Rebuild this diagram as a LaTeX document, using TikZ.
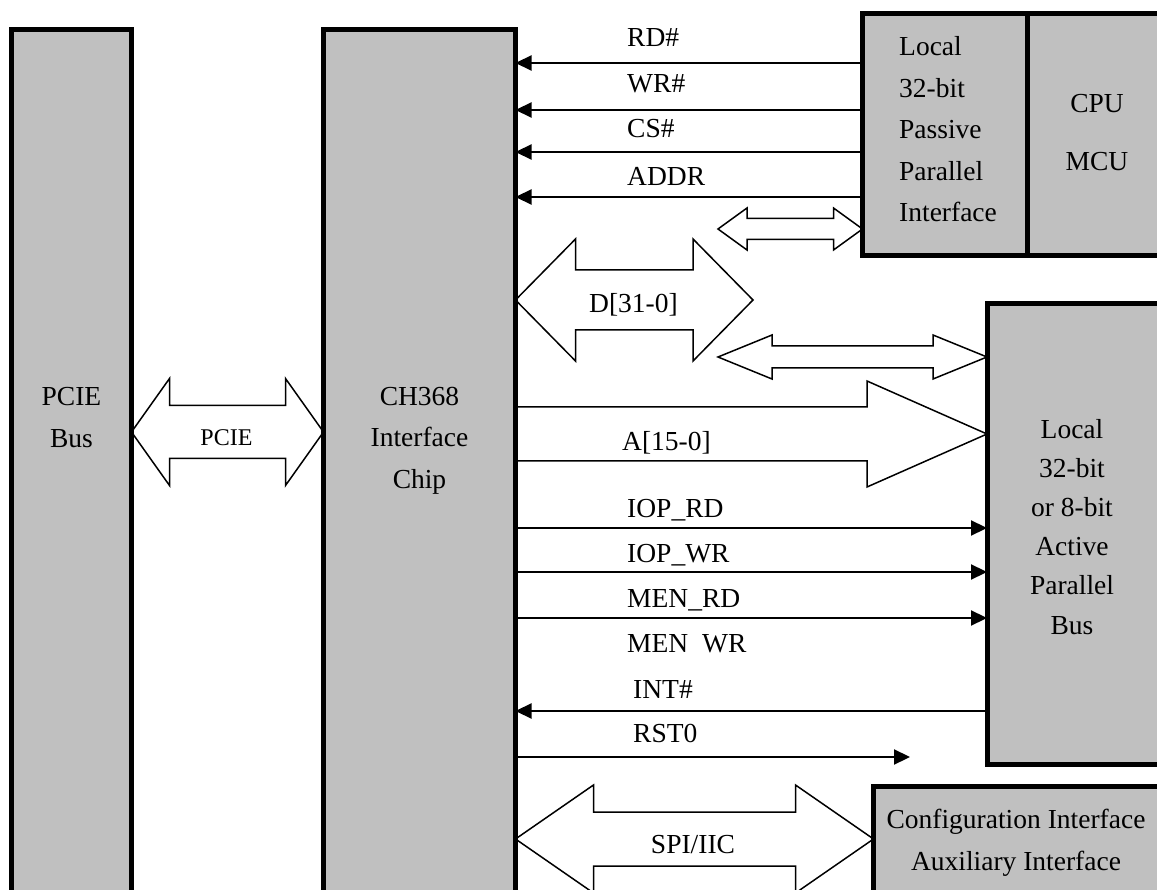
\documentclass[tikz,border=0pt]{standalone}
\usepackage{fontspec}
\setmainfont{Liberation Serif}
\usetikzlibrary{arrows.meta,calc}
\definecolor{boxgray}{RGB}{192,192,192}

% wide bus arrow with two heads: from, to, shaft half width, head half width, head length
\newcommand{\dblbus}[5]{%
  \draw[bus] (#1) -- ($(#1)+(#5,-#4)$) -- ($(#1)+(#5,-#3)$)
    -- ($(#2)+(-#5,-#3)$) -- ($(#2)+(-#5,-#4)$) -- (#2)
    -- ($(#2)+(-#5,#4)$) -- ($(#2)+(-#5,#3)$)
    -- ($(#1)+(#5,#3)$) -- ($(#1)+(#5,#4)$) -- cycle;}
% wide bus arrow with one head
\newcommand{\onebus}[5]{%
  \draw[bus] ($(#1)+(0,-#3)$) -- ($(#2)+(-#5,-#3)$) -- ($(#2)+(-#5,-#4)$) -- (#2)
    -- ($(#2)+(-#5,#4)$) -- ($(#2)+(-#5,#3)$) -- ($(#1)+(0,#3)$);}

\begin{document}
\begin{tikzpicture}[
  x=1pt, y=-1pt,
  font=\fontsize{27.5}{41.5}\selectfont,
  box/.style={draw, line width=5pt, fill=boxgray, outer sep=0pt, anchor=north west},
  sig/.style={line width=2.2pt, -{Triangle[length=16pt,width=15pt]}},
  bus/.style={draw, line width=1.5pt, line join=miter},
  tag/.style={anchor=base west},
  every node/.style={align=center, inner sep=0pt}]

\useasboundingbox (0,0) rectangle (1157,890);
\clip (0,0) rectangle (1157,890);

% The blocks (the texts sit on the baseline of their last line)
\node[box, minimum width=120pt, minimum height=880pt] (pcieBus) at (11.5,29.5) {};
\node[box, minimum width=192pt, minimum height=880pt] (chip) at (323.5,29.5) {};
\node[box, minimum width=164.5pt, minimum height=242pt] (passive) at (862.5,13.5) {};
\node[box, minimum width=160pt, minimum height=242pt] (cpu) at (passive.north east) {};
\node[box, minimum width=200pt, minimum height=460.5pt] (active) at (987,304) {};
\node[box, minimum width=320pt, minimum height=150pt] (config) at (873.5,786.5) {};

\node[anchor=base] (pcieBusText) at (71.5,447) {PCIE\\Bus};
\node[anchor=base] (chipText) at (419.5,488) {CH368\\Interface\\Chip};
\node[anchor=base west, align=left] (passiveText) at (899,222) {Local\\32-bit\\Passive\\Parallel\\Interface};
\node[anchor=base] (cpuText) at (1097,171) {CPU\\[16.5pt]MCU};
\node[anchor=base, font=\fontsize{27.5}{39.2}\selectfont] (activeText) at (1072,634)
  {Local\\32-bit\\or 8-bit\\Active\\Parallel\\Bus};
\node[anchor=base] (configText) at (1016,870) {Configuration Interface\\Auxiliary Interface};

% Signals from the passive interface
\draw[sig] (passive.west |- 0,63) -- (chip.east |- 0,63);
\draw[sig] (passive.west |- 0,110) -- (chip.east |- 0,110);
\draw[sig] (passive.west |- 0,152) -- (chip.east |- 0,152);
\draw[sig] (passive.west |- 0,197) -- (chip.east |- 0,197);
\node[tag] (rdTag) at (627,47) {RD\#};
\node[tag] (wrTag) at (627,93) {WR\#};
\node[tag] (csTag) at (627,138) {CS\#};
\node[tag] (addrTag) at (627,186) {ADDR};

% Signals to the active bus
\draw[sig] (chip.east |- 0,528) -- (active.west |- 0,528);
\draw[sig] (chip.east |- 0,572) -- (active.west |- 0,572);
\draw[sig] (chip.east |- 0,618) -- (active.west |- 0,618);
\draw[sig] (active.west |- 0,711) -- (chip.east |- 0,711);
\coordinate (rstEnd) at (910,757);
\draw[sig] (chip.east |- rstEnd) -- (rstEnd);
\node[tag] (ioprdTag) at (627,517) {IOP\_RD};
\node[tag] (iopwrTag) at (627,562) {IOP\_WR};
\node[tag] (menrdTag) at (627,607) {MEN\_RD};
\node[tag] (menwrTag) at (627,652) {MEN\hspace{0.5em}WR};
\node[tag] (intTag) at (633,698) {INT\#};
\node[tag] (rstTag) at (633,742) {RST0};

% Wide buses
\coordinate (pcieL) at (pcieBus.east |- 0,432);
\coordinate (pcieR) at (chip.west |- 0,432);
\dblbus{pcieL}{pcieR}{26.5}{53.5}{38}
\node[anchor=base, font=\fontsize{24}{28}\selectfont] (pcieTag) at (226.5,446) {PCIE};

\coordinate (dataL) at (chip.east |- 0,300);
\coordinate (dataR) at (753,300);
\dblbus{dataL}{dataR}{30}{61}{60}
\node[anchor=base] (dataTag) at (633.5,313) {D[31-0]};

\coordinate (passL) at (718,229);
\coordinate (passR) at (passive.west |- 0,229);
\dblbus{passL}{passR}{10.5}{21}{29}

\coordinate (actL) at (718,357);
\coordinate (actR) at (active.west |- 0,357);
\dblbus{actL}{actR}{11}{22}{54}

\coordinate (addrL) at (chip.east |- 0,434);
\coordinate (addrR) at (active.west |- 0,434);
\onebus{addrL}{addrR}{27}{53}{120}
\node[tag] (addrBusTag) at (622,450) {A[15-0]};

\coordinate (spiL) at (chip.east |- 0,839);
\coordinate (spiR) at (config.west |- 0,839);
\dblbus{spiL}{spiR}{27}{54}{78}
\node[anchor=base] (spiTag) at (693,853) {SPI/IIC};
\end{tikzpicture}
\end{document}
